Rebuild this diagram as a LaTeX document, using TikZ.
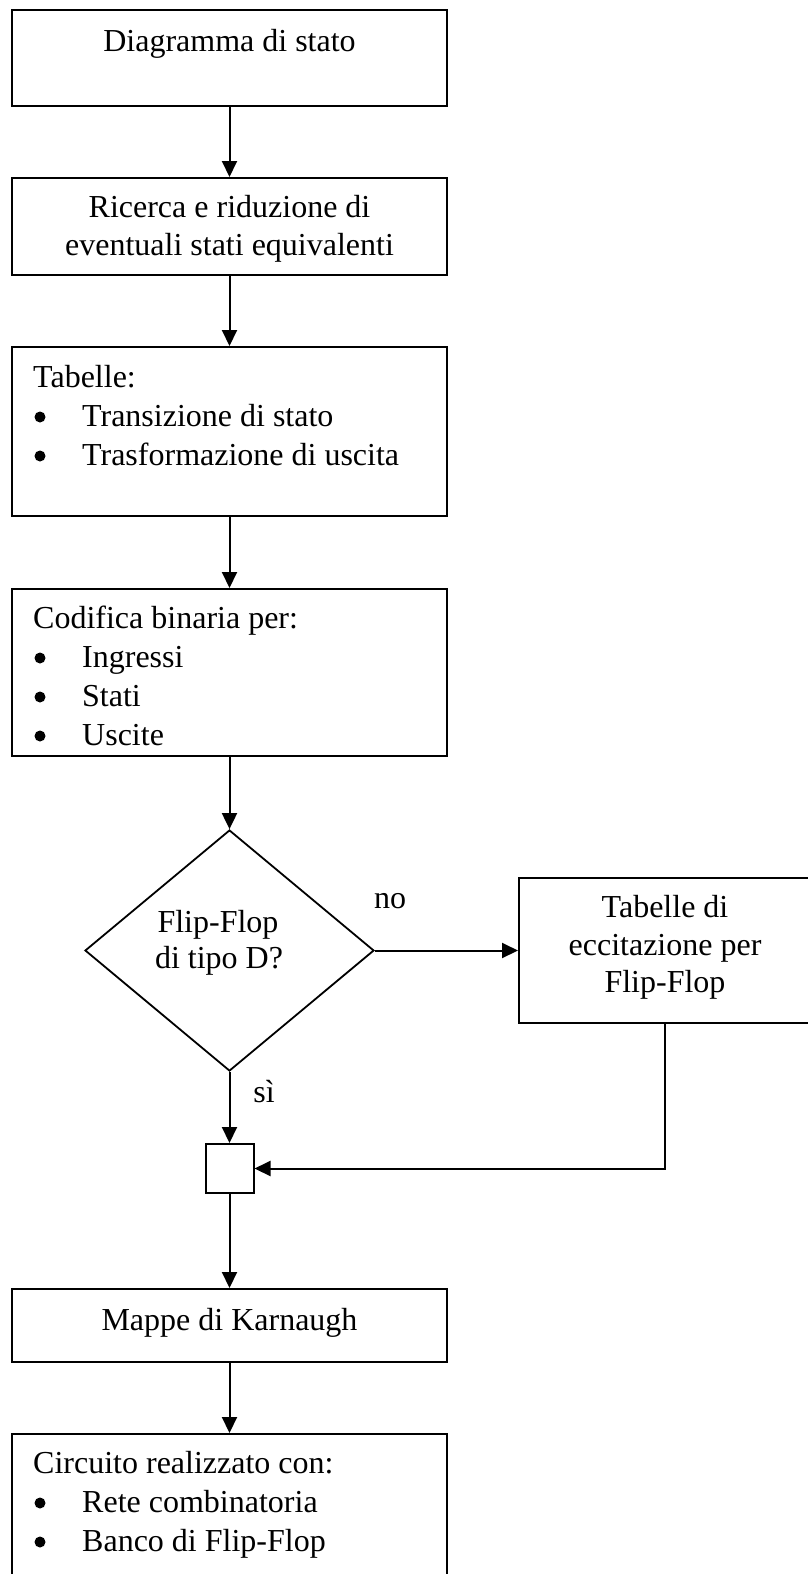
\documentclass[tikz,border=0pt]{standalone}
\usepackage{fontspec}
\setmainfont{Liberation Serif}
\usetikzlibrary{arrows.meta,shapes.geometric}
\begin{document}
\begin{tikzpicture}[x=1pt,y=-1pt,
  every node/.style={font=\fontsize{32}{38}\selectfont},
  box/.style={draw,line width=2pt,inner sep=0pt,rectangle},
  decision/.style={draw,line width=1.8pt,inner sep=0pt,diamond},
  txt/.style={inner sep=0pt,anchor=base},
  ltxt/.style={inner sep=0pt,anchor=base west},
  dot/.style={circle,fill,inner sep=0pt,minimum size=11pt},
  flow/.style={line width=2pt,-{Triangle[width=15pt,length=16pt]}}]
\clip (0,0) rectangle (808,1574);
\fill[white] (0,0) rectangle (808,1574);

% boxes
\node[box,minimum width=435pt,minimum height=96pt] (b1) at (229.5,58) {};
\node[box,minimum width=435pt,minimum height=97pt] (b2) at (229.5,226.5) {};
\node[box,minimum width=435pt,minimum height=169pt] (b3) at (229.5,431.5) {};
\node[box,minimum width=435pt,minimum height=167pt] (b4) at (229.5,672.5) {};
\node[decision,minimum width=289pt,minimum height=241pt] (dd) at (229.5,950.5) {};
\node[box,minimum width=292pt,minimum height=145pt] (rb) at (665,950.5) {};
\node[box,minimum width=48pt,minimum height=49pt] (jn) at (229.5,1168.5) {};
\node[box,minimum width=435pt,minimum height=73pt] (km) at (229.5,1325.5) {};
\node[box,minimum width=435pt,minimum height=166pt] (out) at (229.5,1517) {};

% texts
\node[txt] (t1) at (229.5,51) {Diagramma di stato};
\node[txt] (t2a) at (229.5,217) {Ricerca e riduzione di};
\node[txt] (t2b) at (229.5,255) {eventuali stati equivalenti};

\node[ltxt] (t3) at (33,387) {Tabelle:};
\node[dot] (t3p1) at (40,417) {};
\node[ltxt] (t3a) at (82,426) {Transizione di stato};
\node[dot] (t3p2) at (40,456) {};
\node[ltxt] (t3b) at (82,465) {Trasformazione di uscita};

\node[ltxt] (t4) at (33,628) {Codifica binaria per:};
\node[dot] (t4p1) at (40,658) {};
\node[ltxt] (t4a) at (82,667) {Ingressi};
\node[dot] (t4p2) at (40,697) {};
\node[ltxt] (t4b) at (82,706) {Stati};
\node[dot] (t4p3) at (40,736) {};
\node[ltxt] (t4c) at (82,745) {Uscite};

\node[txt] (tda) at (218,932) {Flip-Flop};
\node[txt] (tdb) at (219,968) {di tipo D?};

\node[txt] (tra) at (665,917) {Tabelle di};
\node[txt] (trb) at (665,955) {eccitazione per};
\node[txt] (trc) at (665,992) {Flip-Flop};

\node[txt] (lno) at (390,908) {no};
\node[txt] (lsi) at (264,1102) {sì};

\node[txt] (tk) at (229.5,1330) {Mappe di Karnaugh};

\node[ltxt] (to) at (33,1473) {Circuito realizzato con:};
\node[dot] (top1) at (40,1503) {};
\node[ltxt] (toa) at (82,1512) {Rete combinatoria};
\node[dot] (top2) at (40,1542) {};
\node[ltxt] (tob) at (82,1551) {Banco di Flip-Flop};

% connectors
\draw[flow] (b1.south) -- (b2.north);
\draw[flow] (b2.south) -- (b3.north);
\draw[flow] (b3.south) -- (b4.north);
\draw[flow] (b4.south) -- (dd.north);
\draw[flow] (dd.east) -- (rb.west);
\draw[flow] (dd.south) -- (jn.north);
\draw[flow] (rb.south) |- (jn.east);
\draw[flow] (jn.south) -- (km.north);
\draw[flow] (km.south) -- (out.north);
\end{tikzpicture}
\end{document}
